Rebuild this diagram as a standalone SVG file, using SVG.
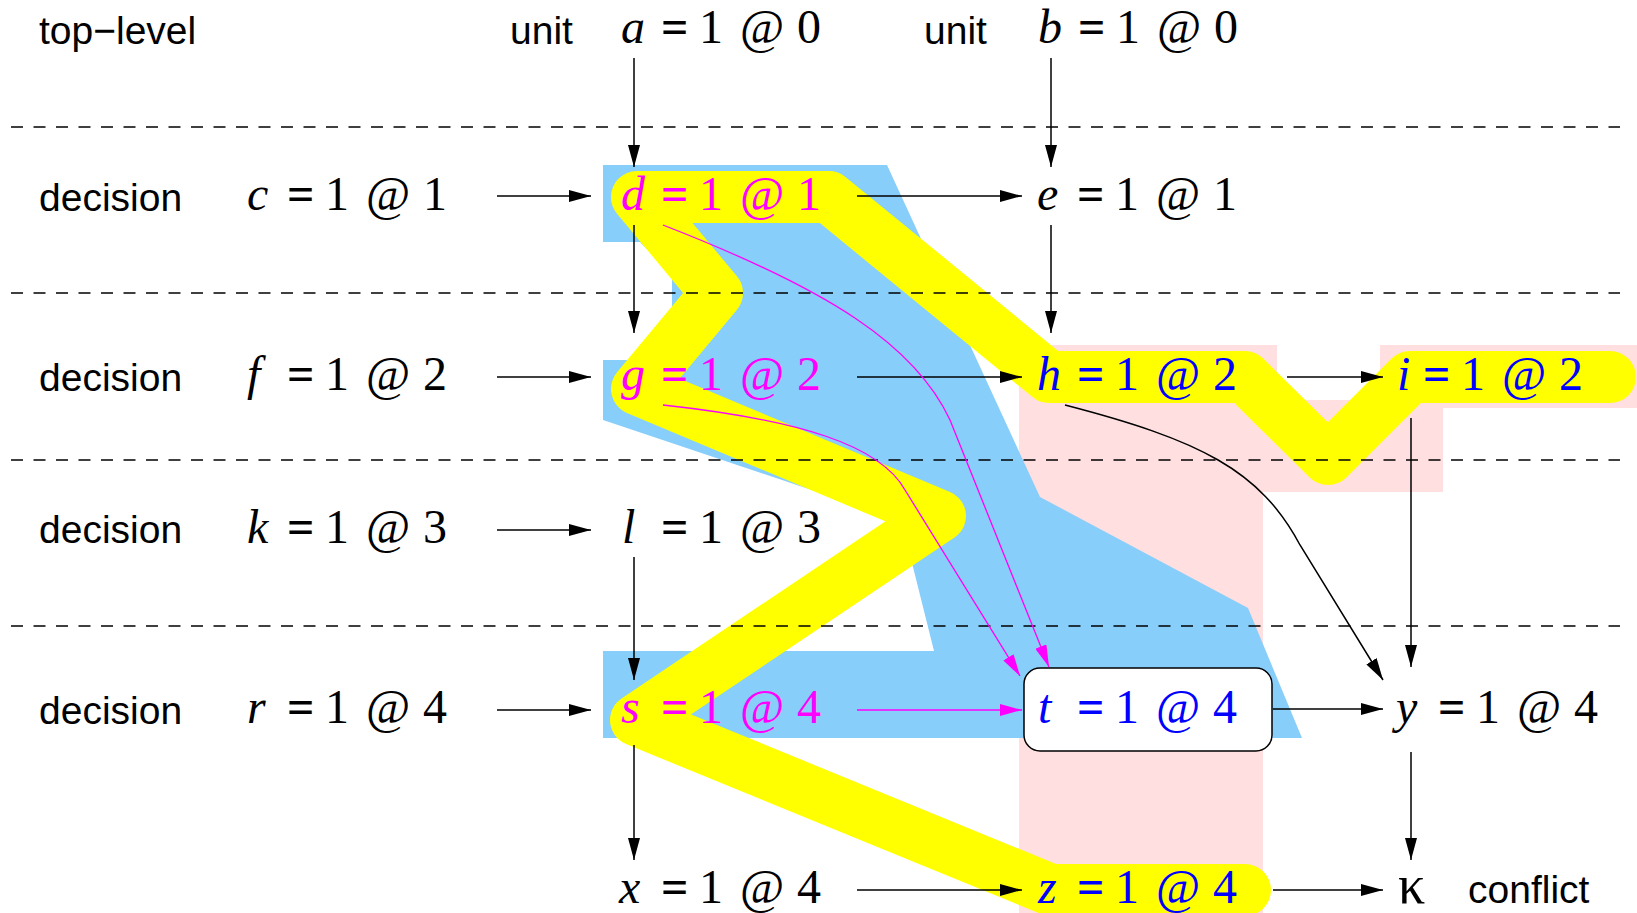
<svg xmlns="http://www.w3.org/2000/svg" width="1637" height="913" viewBox="0 0 1637 913">
<style>
.m{font-family:"Liberation Serif","Times New Roman",serif;font-size:48px;fill:#000}
.v{font-style:italic}
.eq{font-weight:bold}
.mg{fill:#ff00ff}
.bl{fill:#0000ff}
.lab{font-family:"Liberation Sans",Arial,sans-serif;font-size:39px;fill:#000}
.dash{stroke:#000;stroke-width:1.3;stroke-dasharray:12 10.5;fill:none}
.ar{stroke:#000;stroke-width:1.5;fill:none;marker-end:url(#ah)}
.arm{stroke:#ff00ff;stroke-width:1.3;fill:none;marker-end:url(#ahm)}
</style>
<defs>
<marker id="ah" viewBox="0 0 22 12" markerWidth="22" markerHeight="12" refX="22" refY="6" orient="auto" markerUnits="userSpaceOnUse"><path d="M0,0 L22,6 L0,12 z" fill="#000"/></marker>
<marker id="ahm" viewBox="0 0 22 12" markerWidth="22" markerHeight="12" refX="22" refY="6" orient="auto" markerUnits="userSpaceOnUse"><path d="M0,0 L22,6 L0,12 z" fill="#ff00ff"/></marker>
</defs>
<rect width="1637" height="913" fill="#fff"/>
<g id="highlights">
<path id="pink" d="M1019,345 L1277,345 L1277,400 L1380,400 L1380,345 L1637,345 L1637,408 L1443,408 L1443,492 L1263,492 L1263,913 L1019,913 Z" fill="#ffdfdf"/>
<path id="blue" d="M603,165 L887,165 L1040,497 L1248,608 L1302,738 L603,738 L603,651 L934,651 L913,567 L901,520 L603,420 L603,360 L645,360 L672,312 L672,275 L640,242 L603,242 Z" fill="#87cefa"/>
<path id="yellow" d="M1610,377 L1410,377 L1328,459 L1245,377 L1049,377 L829,197 L637,197 L717,293 L637,389 L940,516 L636,720 L1051,890 L1245,890" fill="none" stroke="#ffff00" stroke-width="52" stroke-linejoin="round" stroke-linecap="round"/>
</g>
<g id="levels">
<line class="dash" x1="11" y1="127" x2="1620" y2="127"/>
<line class="dash" x1="11" y1="293" x2="1620" y2="293"/>
<line class="dash" x1="11" y1="460" x2="1620" y2="460"/>
<line class="dash" x1="11" y1="626" x2="1620" y2="626"/>
</g>
<g id="labels">
<text class="lab" x="39" y="44">top−level</text>
<text class="lab" x="510" y="44">unit</text>
<text class="lab" x="924" y="44">unit</text>
<text class="lab" x="39" y="211">decision</text>
<text class="lab" x="39" y="391">decision</text>
<text class="lab" x="39" y="543">decision</text>
<text class="lab" x="39" y="724">decision</text>
<text class="lab" x="1468" y="903">conflict</text>
</g>
<g id="node-t"><rect x="1024" y="668" width="248" height="83" rx="16" fill="#fff" stroke="#000" stroke-width="1.5"/></g>
<g id="connectors">
<line class="ar" x1="634" y1="58" x2="634" y2="167"/>
<line class="ar" x1="1051" y1="58" x2="1051" y2="167"/>
<line class="ar" x1="634" y1="225" x2="634" y2="333"/>
<line class="ar" x1="1051" y1="225" x2="1051" y2="333"/>
<line class="ar" x1="634" y1="557" x2="634" y2="680"/>
<line class="ar" x1="634" y1="745" x2="634" y2="860"/>
<line class="ar" x1="1411" y1="418" x2="1411" y2="667"/>
<line class="ar" x1="1411" y1="752" x2="1411" y2="860"/>
<line class="ar" x1="497" y1="196" x2="591" y2="196"/>
<line class="ar" x1="497" y1="377" x2="591" y2="377"/>
<line class="ar" x1="497" y1="530" x2="591" y2="530"/>
<line class="ar" x1="497" y1="710" x2="591" y2="710"/>
<line class="ar" x1="857" y1="196" x2="1022" y2="196"/>
<line class="ar" x1="857" y1="377" x2="1022" y2="377"/>
<line class="ar" x1="1287" y1="377" x2="1383" y2="377"/>
<line class="ar" x1="1273" y1="709" x2="1383" y2="709"/>
<line class="ar" x1="857" y1="890" x2="1022" y2="890"/>
<line class="ar" x1="1273" y1="890" x2="1383" y2="890"/>
<line class="arm" x1="857" y1="710" x2="1022" y2="710"/>
<path class="arm" d="M663,225 C830,290 915,345 950,420 L1049,667"/>
<path class="arm" d="M663,405 C800,420 880,445 905,490 L1020,676"/>
<path class="ar" d="M1065,405 C1200,440 1260,470 1300,545 L1383,680"/>
</g>
<g id="node-a"><text class="m" y="43"><tspan class="v" x="621">a</tspan><tspan class="eq" x="661">=</tspan><tspan x="699">1</tspan><tspan x="740">@</tspan><tspan x="797">0</tspan></text></g>
<g id="node-b"><text class="m" y="43"><tspan class="v" x="1038">b</tspan><tspan class="eq" x="1078">=</tspan><tspan x="1116">1</tspan><tspan x="1157">@</tspan><tspan x="1214">0</tspan></text></g>
<g id="node-c"><text class="m" y="210"><tspan class="v" x="247">c</tspan><tspan class="eq" x="287">=</tspan><tspan x="325">1</tspan><tspan x="366">@</tspan><tspan x="423">1</tspan></text></g>
<g id="node-d"><text class="m mg" y="210"><tspan class="v" x="621">d</tspan><tspan class="eq" x="661">=</tspan><tspan x="699">1</tspan><tspan x="740">@</tspan><tspan x="797">1</tspan></text></g>
<g id="node-e"><text class="m" y="210"><tspan class="v" x="1037">e</tspan><tspan class="eq" x="1077">=</tspan><tspan x="1115">1</tspan><tspan x="1156">@</tspan><tspan x="1213">1</tspan></text></g>
<g id="node-f"><text class="m" y="390"><tspan class="v" x="247">f</tspan><tspan class="eq" x="287">=</tspan><tspan x="325">1</tspan><tspan x="366">@</tspan><tspan x="423">2</tspan></text></g>
<g id="node-g"><text class="m mg" y="390"><tspan class="v" x="621">g</tspan><tspan class="eq" x="661">=</tspan><tspan x="699">1</tspan><tspan x="740">@</tspan><tspan x="797">2</tspan></text></g>
<g id="node-h"><text class="m bl" y="390"><tspan class="v" x="1037">h</tspan><tspan class="eq" x="1077">=</tspan><tspan x="1115">1</tspan><tspan x="1156">@</tspan><tspan x="1213">2</tspan></text></g>
<g id="node-i"><text class="m bl" y="390"><tspan class="v" x="1397">i</tspan><tspan class="eq" x="1423">=</tspan><tspan x="1461">1</tspan><tspan x="1502">@</tspan><tspan x="1559">2</tspan></text></g>
<g id="node-k"><text class="m" y="543"><tspan class="v" x="247">k</tspan><tspan class="eq" x="287">=</tspan><tspan x="325">1</tspan><tspan x="366">@</tspan><tspan x="423">3</tspan></text></g>
<g id="node-l"><text class="m" y="543"><tspan class="v" x="622">l</tspan><tspan class="eq" x="661">=</tspan><tspan x="699">1</tspan><tspan x="740">@</tspan><tspan x="797">3</tspan></text></g>
<g id="node-r"><text class="m" y="723"><tspan class="v" x="247">r</tspan><tspan class="eq" x="287">=</tspan><tspan x="325">1</tspan><tspan x="366">@</tspan><tspan x="423">4</tspan></text></g>
<g id="node-s"><text class="m mg" y="723"><tspan class="v" x="621">s</tspan><tspan class="eq" x="661">=</tspan><tspan x="699">1</tspan><tspan x="740">@</tspan><tspan x="797">4</tspan></text></g>
<g id="node-t-label"><text class="m bl" y="723"><tspan class="v" x="1038">t</tspan><tspan class="eq" x="1077">=</tspan><tspan x="1115">1</tspan><tspan x="1156">@</tspan><tspan x="1213">4</tspan></text></g>
<g id="node-y"><text class="m" y="723"><tspan class="v" x="1396">y</tspan><tspan class="eq" x="1438">=</tspan><tspan x="1476">1</tspan><tspan x="1517">@</tspan><tspan x="1574">4</tspan></text></g>
<g id="node-x"><text class="m" y="903"><tspan class="v" x="619">x</tspan><tspan class="eq" x="661">=</tspan><tspan x="699">1</tspan><tspan x="740">@</tspan><tspan x="797">4</tspan></text></g>
<g id="node-z"><text class="m bl" y="903"><tspan class="v" x="1038">z</tspan><tspan class="eq" x="1077">=</tspan><tspan x="1115">1</tspan><tspan x="1156">@</tspan><tspan x="1213">4</tspan></text></g>
<g id="node-kappa"><text class="m" x="1398" y="903" style="font-size:54px">κ</text></g>
</svg>
